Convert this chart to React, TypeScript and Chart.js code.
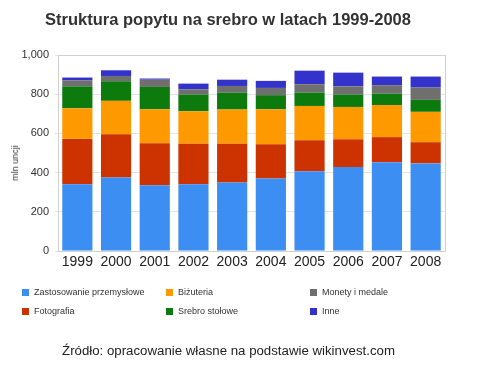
import React, { useEffect, useRef } from "react";
import { Chart, registerables } from "chart.js";

Chart.register(...registerables);

const years = ["1999", "2000", "2001", "2002", "2003", "2004", "2005", "2006", "2007", "2008"];
const przemyslowe = [340, 375, 336, 340, 350, 370, 407, 428, 453, 447];
const fotografia = [232, 221, 214, 207, 197, 175, 158, 142, 128, 108];
const bizuteria = [156, 170, 173, 166, 175, 178, 175, 165, 164, 155];
const srebroStolowe = [112, 100, 114, 85, 86, 72, 68, 63, 58, 61];
const monety = [31, 27, 37, 27, 34, 37, 43, 42, 43, 63];
const inne = [14, 29, 6, 29, 32, 36, 69, 70, 44, 56];

const seriesNames = ["Zastosowanie przemysłowe", "Fotografia", "Biżuteria", "Srebro stołowe", "Monety i medale", "Inne"];
const seriesColors = ["#3d8ef2", "#cc3300", "#ff9900", "#0c7a0c", "#6f6f6f", "#3333cc"];
const seriesData = [przemyslowe, fotografia, bizuteria, srebroStolowe, monety, inne];

const legendItems = [
  { i: 0, x: 22, y: 287 },
  { i: 2, x: 166, y: 287 },
  { i: 4, x: 310, y: 287 },
  { i: 1, x: 22, y: 306 },
  { i: 3, x: 166, y: 306 },
  { i: 5, x: 310, y: 306 },
];

const frame = {
  id: "frame",
  afterDraw(chart: any) {
    const { ctx, chartArea } = chart;
    ctx.save();
    ctx.strokeStyle = "#d0d0d0";
    ctx.lineWidth = 1;
    ctx.strokeRect(Math.round(chartArea.left) + 0.5, Math.round(chartArea.top) + 0.5,
      Math.round(chartArea.right - chartArea.left), Math.round(chartArea.bottom - chartArea.top));
    ctx.restore();
  },
};

export default function App() {
  const ref = useRef<HTMLCanvasElement>(null);
  useEffect(() => {
    document.body.style.margin = "0";
    const chart = new Chart(ref.current!, {
      type: "bar",
      data: {
        labels: years,
        datasets: seriesData.map((d, k) => ({
          label: seriesNames[k],
          data: d,
          backgroundColor: seriesColors[k],
          borderWidth: 0,
          categoryPercentage: 1,
          barPercentage: 0.78,
        })),
      },
      options: {
        animation: false,
        responsive: false,
        layout: { padding: { top: 55, right: 34, bottom: 107, left: 0 } },
        plugins: { legend: { display: false }, title: { display: false }, tooltip: { enabled: false } },
        scales: {
          x: {
            stacked: true,
            grid: { display: false, drawTicks: false },
            border: { display: false },
            ticks: { color: "#222", font: { family: "Liberation Sans, Arial", size: 14 }, padding: 3 },
            afterFit: (s: any) => { s.height = 25; },
          },
          y: {
            stacked: true,
            min: 0,
            max: 1000,
            ticks: { stepSize: 200, color: "#333", font: { family: "Liberation Sans, Arial", size: 11 }, padding: 6 },
            grid: { color: "#e4e4e4", drawTicks: true, tickLength: 3 },
            border: { display: false },
            afterFit: (s: any) => { s.width = 58; },
          },
        },
      },
      plugins: [frame],
    });
    return () => chart.destroy();
  }, []);

  return (
    <div style={{ position: "relative", width: 479, height: 383, background: "#fff", fontFamily: "Liberation Sans, Arial, sans-serif" }}>
      <canvas ref={ref} width={479} height={383} style={{ position: "absolute", left: 0, top: 0 }} />
      <div style={{ position: "absolute", left: 0, width: 456, top: 10, textAlign: "center", fontWeight: "bold", fontSize: 16.5, color: "#333" }}>
        Struktura popytu na srebro w latach 1999-2008
      </div>
      <div style={{ position: "absolute", left: 15, top: 163, width: 0, height: 0 }}>
        <div style={{ position: "absolute", left: 0, top: 0, transform: "translate(-50%, -50%) rotate(-90deg)", fontSize: 9, color: "#333", whiteSpace: "nowrap" }}>
          mln uncji
        </div>
      </div>
      {legendItems.map((it) => (
        <div key={it.i} style={{ position: "absolute", left: it.x, top: it.y, display: "flex", alignItems: "center", fontSize: 9, color: "#333", whiteSpace: "nowrap" }}>
          <span style={{ display: "inline-block", width: 7, height: 7, background: seriesColors[it.i], marginRight: 5 }} />
          <span>{seriesNames[it.i]}</span>
        </div>
      ))}
      <div style={{ position: "absolute", left: 0, width: 457, top: 343, textAlign: "center", fontSize: 13.25, color: "#222" }}>
        Źródło: opracowanie własne na podstawie wikinvest.com
      </div>
    </div>
  );
}
